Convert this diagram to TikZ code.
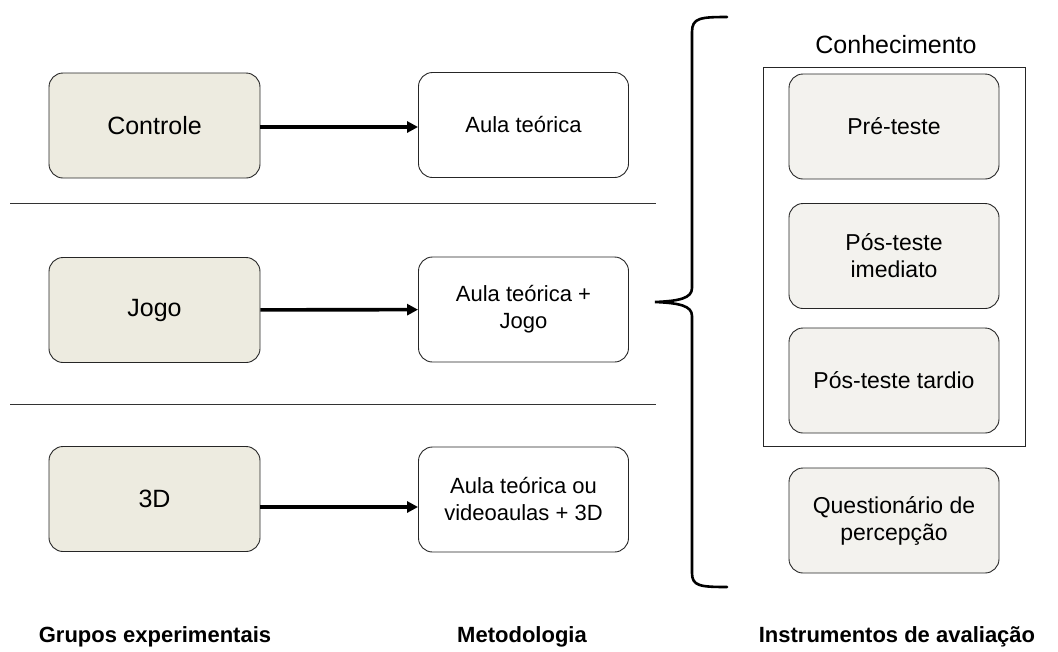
\documentclass[tikz,border=0pt]{standalone}
\usepackage{fontspec}
\setmainfont{Liberation Sans}
\usetikzlibrary{arrows.meta}
\definecolor{grpfill}{HTML}{EDEBE0}
\definecolor{insfill}{HTML}{F3F2EE}
\tikzset{
  grpbox/.style={draw=black!85, line width=0.9pt, rounded corners=14pt, fill=grpfill, minimum width=211pt, minimum height=105pt, font=\fontsize{25}{29}\selectfont, align=center},
  metbox/.style={draw=black!85, line width=0.9pt, rounded corners=14pt, fill=white, minimum width=210pt, minimum height=105pt, font=\fontsize{22}{27}\selectfont, align=center},
  insbox/.style={draw=black!85, line width=0.9pt, rounded corners=14pt, fill=insfill, minimum width=210pt, minimum height=105pt, font=\fontsize{23}{27}\selectfont, align=center},
  flow/.style={line width=3.6pt, -{Triangle[length=11pt,width=11pt]}},
  sep/.style={line width=0.8pt, black!80},
  foot/.style={font=\bfseries\fontsize{22}{26}\selectfont}
}
\begin{document}
\begin{tikzpicture}[x=1pt,y=-1pt]
\useasboundingbox (0,0) rectangle (1058,651);
% groups
\node[grpbox] (g1) at (154.5,125.5) {Controle};
\node[grpbox] (g2) at (154.5,310) {Jogo};
\node[grpbox] (g3) at (154.5,499) {3D};
% methods
\node[metbox] (m1) at (523.5,125) {Aula teórica};
\node[metbox] (m2) at (523.5,309.5) {Aula teórica +\\Jogo};
\node[metbox] (m3) at (523.5,499.5) {Aula teórica ou\\videoaulas + 3D};
\draw[flow] ([yshift=-1.5pt]g1.east) -- ([yshift=-1.5pt]g1.east -| m1.west);
\draw[flow] (g2) -- (m2);
\draw[flow] ([yshift=-8pt]g3.east) -- ([yshift=-8pt]g3.east -| m3.west);
% separators
\coordinate (s1a) at (10,203); \coordinate (s1b) at (656,203);
\coordinate (s2a) at (10,404); \coordinate (s2b) at (656,404);
\draw[sep] (s1a) -- (s1b);
\draw[sep] (s2a) -- (s2b);
% brace
\draw[line width=2.6pt, line cap=round] (727,17) .. controls (700,17) and (692,18) .. (692,32) -- (692,288) .. controls (692,298) and (680,301) .. (655,302) .. controls (680,303) and (692,306) .. (692,316) -- (692,573) .. controls (692,586) and (700,587) .. (727,587);
% instruments
\node[draw=black!85, line width=0.9pt, minimum width=262pt, minimum height=379pt] (kbox) at (894,256.5) {};
\node[font=\fontsize{25}{29}\selectfont] (klabel) at (896,45) {Conhecimento};
\node[insbox] (i1) at (894,126.5) {Pré-teste};
\node[insbox] (i2) at (894,256) {Pós-teste\\imediato};
\node[insbox] (i3) at (894,380.5) {Pós-teste tardio};
\node[insbox] (i4) at (894,520.5) {Questionário de\\percepção};
% footers
\node[foot] (f1) at (155,637) {Grupos experimentais};
\node[foot] (f2) at (522,637) {Metodologia};
\node[foot] (f3) at (897,637) {Instrumentos de avaliação};
\end{tikzpicture}
\end{document}
